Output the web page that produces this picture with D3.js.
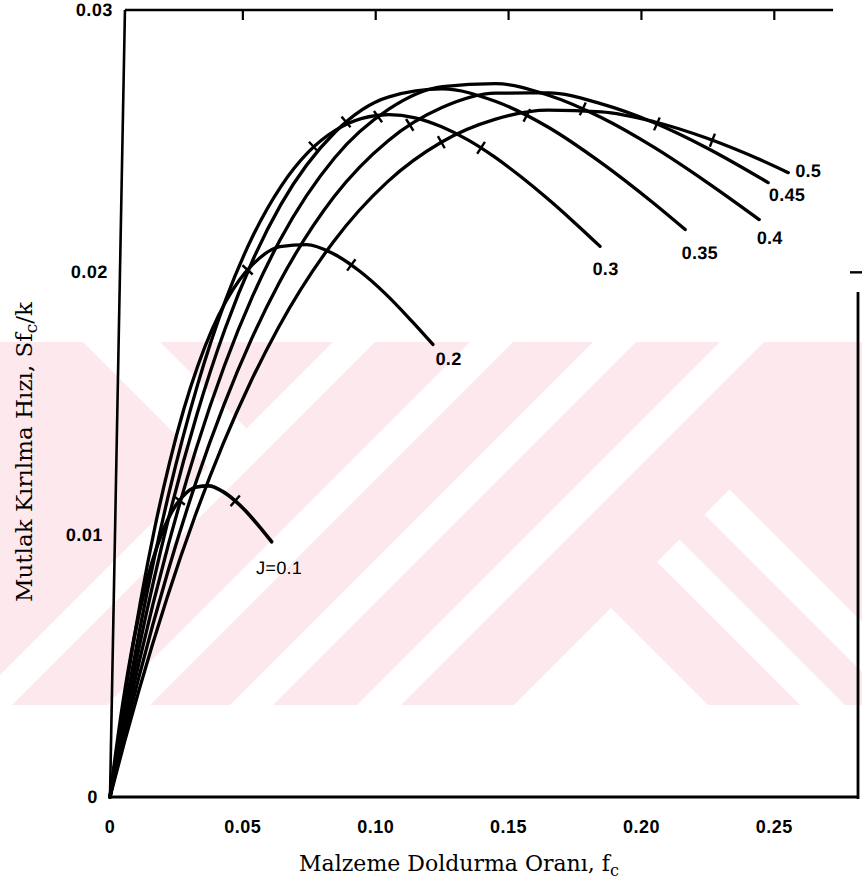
<!DOCTYPE html>
<html><head><meta charset="utf-8">
<script src="https://cdn.jsdelivr.net/npm/d3@7"></script>
<style>body{margin:0;background:#fff}svg{display:block}</style>
</head><body>
<svg id="c" width="862" height="883"></svg>
<script>
// ---------------- data ----------------
const curveNames = ["J=0.1", "0.2", "0.3", "0.35", "0.4", "0.45", "0.5"];

const fc_J10 = [0, 0.004, 0.008, 0.012, 0.016, 0.02, 0.025, 0.03, 0.035, 0.04, 0.045, 0.05, 0.055, 0.059];
const sfk_J10 = [0, 0.00343, 0.00609, 0.0081, 0.00958, 0.01063, 0.01143, 0.01181, 0.01186, 0.01166, 0.01129, 0.0108, 0.01022, 0.00973];

const fc_J20 = [0, 0.005, 0.01, 0.015, 0.02, 0.025, 0.03, 0.035, 0.04, 0.045, 0.05, 0.06, 0.07, 0.08, 0.09, 0.10, 0.11, 0.1183];
const sfk_J20 = [0, 0.00399, 0.0074, 0.0103, 0.01274, 0.01478, 0.01645, 0.01781, 0.01888, 0.01971, 0.02031, 0.02098, 0.02106, 0.02072, 0.02006, 0.01919, 0.01816, 0.01725];

const fc_J30 = [0, 0.005, 0.01, 0.015, 0.02, 0.03, 0.04, 0.05, 0.06, 0.07, 0.08, 0.09, 0.10, 0.11, 0.12, 0.13, 0.14, 0.15, 0.16, 0.17, 0.1805];
const sfk_J30 = [0, 0.00336, 0.0064, 0.00913, 0.01158, 0.01571, 0.01896, 0.02144, 0.02328, 0.02458, 0.02541, 0.02587, 0.02601, 0.02589, 0.02555, 0.02505, 0.02441, 0.02366, 0.02284, 0.02196, 0.02099];

const fc_J35 = [0, 0.005, 0.01, 0.02, 0.03, 0.04, 0.05, 0.06, 0.08, 0.10, 0.12, 0.14, 0.16, 0.18, 0.20, 0.2124];
const sfk_J35 = [0, 0.00301, 0.00577, 0.0106, 0.01459, 0.01786, 0.02049, 0.02257, 0.02535, 0.02669, 0.02699, 0.02652, 0.02554, 0.0242, 0.02266, 0.02163];

const fc_J40 = [0, 0.005, 0.01, 0.02, 0.03, 0.04, 0.05, 0.06, 0.08, 0.10, 0.12, 0.14, 0.16, 0.18, 0.20, 0.22, 0.2402];
const sfk_J40 = [0, 0.00267, 0.00515, 0.00955, 0.0133, 0.01645, 0.01907, 0.02123, 0.02437, 0.02622, 0.02708, 0.02719, 0.02675, 0.0259, 0.02477, 0.02345, 0.02201];

const fc_J45 = [0, 0.005, 0.01, 0.02, 0.03, 0.04, 0.05, 0.06, 0.08, 0.10, 0.12, 0.14, 0.16, 0.18, 0.20, 0.22, 0.2433];
const sfk_J45 = [0, 0.00236, 0.00456, 0.00853, 0.01197, 0.01493, 0.01746, 0.0196, 0.02288, 0.02502, 0.02628, 0.02683, 0.02684, 0.02642, 0.0257, 0.02474, 0.02342];

const fc_J50 = [0, 0.005, 0.01, 0.02, 0.03, 0.04, 0.05, 0.06, 0.08, 0.10, 0.12, 0.14, 0.16, 0.18, 0.20, 0.22, 0.24, 0.2508];
const sfk_J50 = [0, 0.00207, 0.00402, 0.00758, 0.01071, 0.01345, 0.01583, 0.01789, 0.02115, 0.02345, 0.02496, 0.02583, 0.02618, 0.02612, 0.02574, 0.02511, 0.0243, 0.0238];

// cross marks on each curve (fc positions)
const crossLow  = [0.024, 0.048, 0.072, 0.084, 0.096, 0.108, 0.120];
const crossHigh = [0.045, 0.087, 0.135, 0.152, 0.173, 0.201, 0.222];

const xTickValues = [0, 0.05, 0.10, 0.15, 0.20, 0.25];
const xTickLabels = ["0", "0.05", "0.10", "0.15", "0.20", "0.25"];
const yTickValues = [0, 0.01, 0.02, 0.03];
const yTickLabels = ["0", "0.01", "0.02", "0.03"];

// ---------------- layout / style ----------------
const labelOffsets = [[-15, 32], [3, 21], [-7, 29], [-3, 29], [-2, 24], [1, 18], [7, 4]];
const W = 862, H = 883;
const svg = d3.select("#c");
const x = d3.scaleLinear().domain([0, 0.2815]).range([110, 858]);
const y = d3.scaleLinear().domain([0, 0.03]).range([797, 10]);
const skewDeg = -Math.atan(0.019) * 180 / Math.PI;

// ---------------- background watermark (scan decoration) ----------------
const bandTop = 342, bandBot = 705, pink = "#fde9ed";
svg.append("defs").append("clipPath").attr("id", "band")
  .append("rect").attr("x", 0).attr("y", bandTop).attr("width", W).attr("height", bandBot - bandTop);
const wm = svg.append("g").attr("clip-path", "url(#band)");
wm.append("rect").attr("x", 0).attr("y", bandTop).attr("width", W).attr("height", bandBot - bandTop).attr("fill", pink);
// "/" white gaps given as x+y ranges
const slashGaps = [[675, 717], [812, 855], [935, 978], [1062, 1106]];
slashGaps.forEach(([a, b]) => {
  wm.append("polygon").attr("fill", "#fff")
    .attr("points", [[a - bandTop, bandTop], [b - bandTop, bandTop], [b - bandBot, bandBot], [a - bandBot, bandBot]].join(" "));
});
// "\" white gap on the left, ending on the first "/" gap
wm.append("polygon").attr("fill", "#fff")
  .attr("points", [[83, bandTop], [160, bandTop], [246.5, 428.5], [208, 467]].join(" "));
// lower-right part (beyond the line x+y = 1219): "\" gaps and the triangular notch
const cut = 1219;
const backGaps = [[-400, 3], [95, 140], [190, 240]];
backGaps.forEach(([a, b]) => {
  const p1 = [(cut + a) / 2, (cut - a) / 2], p2 = [(cut + b) / 2, (cut - b) / 2];
  const p3 = [b + 1000, 1000], p4 = [a + 1000, 1000];
  wm.append("polygon").attr("fill", "#fff").attr("points", [p1, p2, p3, p4].join(" "));
});

const sans = "'Liberation Sans', Arial, Helvetica, sans-serif";
const serif = "'DejaVu Serif', serif";

// sheared plot group (scan is slightly skewed)
const g = svg.append("g")
  .attr("transform", `translate(0,${y(0)}) skewX(${skewDeg}) translate(0,${-y(0)})`);

// frame: left + top
g.append("line").attr("x1", x(0)).attr("x2", x(0)).attr("y1", y(0)).attr("y2", y(0.03))
  .attr("stroke", "#000").attr("stroke-width", 2.6);
g.append("line").attr("x1", x(0)).attr("x2", x(0.2665)).attr("y1", y(0.03)).attr("y2", y(0.03))
  .attr("stroke", "#000").attr("stroke-width", 2.4);
svg.selectAll(".tt").data(xTickValues.slice(1)).join("line")
  .attr("x1", d => x(d)).attr("x2", d => x(d)).attr("y1", y(0.03)).attr("y2", y(0.03) + 10)
  .attr("stroke", "#000").attr("stroke-width", 2.2);

// y tick labels
g.selectAll(".yl").data(yTickValues).join("text")
  .attr("x", x(0) - 12).attr("y", d => y(d) + 6)
  .attr("text-anchor", "end").attr("font-family", sans).attr("font-weight", "bold")
  .attr("font-size", 18).attr("letter-spacing", 0.5).text((d, i) => yTickLabels[i]);

// curves
const series = [
  [fc_J10, sfk_J10], [fc_J20, sfk_J20], [fc_J30, sfk_J30], [fc_J35, sfk_J35],
  [fc_J40, sfk_J40], [fc_J45, sfk_J45], [fc_J50, sfk_J50]
].map(([f, s]) => f.map((v, i) => [v, s[i]]));

const line = d3.line().x(d => x(d[0])).y(d => y(d[1])).curve(d3.curveMonotoneX);

series.forEach((pts, k) => {
  const p = g.append("path").attr("d", line(pts)).attr("fill", "none")
    .attr("stroke", "#000").attr("stroke-width", k === 0 ? 3.6 : 3.3)
    .attr("stroke-linecap", "round").attr("stroke-linejoin", "round");
  const node = p.node();
  const L = node.getTotalLength();
  const findAt = (px) => {
    let lo = 0, hi = L;
    for (let it = 0; it < 40; it++) {
      const mid = (lo + hi) / 2;
      if (node.getPointAtLength(mid).x < px) lo = mid; else hi = mid;
    }
    return lo;
  };
  [crossLow[k], crossHigh[k]].forEach(fc => {
    const l = findAt(x(fc));
    const a = node.getPointAtLength(Math.max(0, l - 2));
    const b = node.getPointAtLength(Math.min(L, l + 2));
    const c = node.getPointAtLength(l);
    let tx = b.x - a.x, ty = b.y - a.y; const n = Math.hypot(tx, ty) || 1;
    tx /= n; ty /= n;
    const h = 7;
    g.append("line").attr("x1", c.x - ty * h).attr("y1", c.y + tx * h)
      .attr("x2", c.x + ty * h).attr("y2", c.y - tx * h)
      .attr("stroke", "#000").attr("stroke-width", 2.4);
  });
  const end = pts[pts.length - 1];
  const off = labelOffsets[k];
  g.append("text").attr("x", x(end[0]) + off[0]).attr("y", y(end[1]) + off[1])
    .attr("font-family", sans).attr("font-weight", k === 0 ? "normal" : "bold")
    .attr("font-size", 18).attr("letter-spacing", 0.3).attr("fill", "#000").text(curveNames[k]);
});

// right border + bottom axis (unsheared)
svg.append("line").attr("x1", x(0.2815)).attr("x2", x(0.2815)).attr("y1", 292).attr("y2", y(0) + 2)
  .attr("stroke", "#000").attr("stroke-width", 2.8);
svg.append("line").attr("x1", x(0.2815) - 8).attr("x2", x(0.2815) + 4).attr("y1", y(0.02)).attr("y2", y(0.02))
  .attr("stroke", "#000").attr("stroke-width", 2.4);
svg.append("line").attr("x1", x(0)).attr("x2", x(0.2815) + 1).attr("y1", y(0)).attr("y2", y(0))
  .attr("stroke", "#000").attr("stroke-width", 2.8);

// x tick labels
svg.selectAll(".xl").data(xTickValues).join("text")
  .attr("x", d => x(d)).attr("y", 833).attr("text-anchor", "middle")
  .attr("font-family", sans).attr("font-weight", "bold").attr("font-size", 18).attr("letter-spacing", 0.5)
  .text((d, i) => xTickLabels[i]);

// axis titles
const xt = svg.append("text").attr("x", 459).attr("y", 871).attr("text-anchor", "middle")
  .attr("font-family", serif).attr("font-size", 22);
xt.append("tspan").text("Malzeme Doldurma Oranı, f");
xt.append("tspan").attr("font-size", 16).attr("dy", 5).text("c");

const yt = svg.append("text").attr("transform", "translate(32,452) rotate(-90)")
  .attr("text-anchor", "middle").attr("font-family", serif).attr("font-size", 23);
yt.append("tspan").text("Mutlak Kırılma Hızı, Sf");
yt.append("tspan").attr("font-size", 17).attr("dy", 5).text("c");
yt.append("tspan").attr("dy", -5).text("/k");
</script>
</body></html>
